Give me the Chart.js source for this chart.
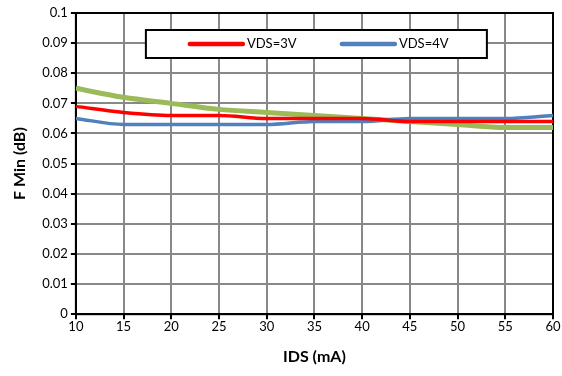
<!DOCTYPE html>
<html>
<head>
<meta charset="utf-8">
<script src="https://cdn.jsdelivr.net/npm/chart.js@4"></script>
<style>
  html, body { margin: 0; padding: 0; background: #fff; }
  #wrap { width: 562px; height: 376px; }
</style>
</head>
<body>
<div id="wrap"><canvas id="fminChart" width="562" height="376"></canvas></div>
<script>
// IDS (mA) değerleri
const ids = [10, 15, 20, 25, 30, 35, 40, 45, 50, 55, 60];
// F Min (dB) serileri
const vds3 = [0.069, 0.067, 0.066, 0.066, 0.065, 0.065, 0.065, 0.064, 0.064, 0.064, 0.064];
const vds4 = [0.065, 0.063, 0.063, 0.063, 0.063, 0.064, 0.064, 0.065, 0.065, 0.065, 0.066];
const green = [0.075, 0.072, 0.070, 0.068, 0.067, 0.066, 0.065, 0.064, 0.063, 0.062, 0.062];
const seriesNames = ['VDS=3V', 'VDS=4V', ''];

const FONT = "Lato, 'Open Sans', sans-serif";

function toPoints(arr) {
    return arr.map((v, i) => ({ x: ids[i], y: v }));
}

// Çerçeve: üst ve sağ kenar
const frame = {
    id: 'frame',
    beforeDatasetsDraw(chart) {
        const a = chart.chartArea;
        const ctx = chart.ctx;
        ctx.save();
        ctx.strokeStyle = '#000';
        ctx.lineWidth = 2;
        ctx.strokeRect(a.left, a.top, a.right - a.left, a.bottom - a.top);
        ctx.restore();
    }
};

// Grafik içi legend kutusu
const boxLegend = {
    id: 'boxLegend',
    afterDraw(chart) {
        const a = chart.chartArea;
        const ctx = chart.ctx;
        const x0 = a.left + 70, y0 = a.top + 17, w = 341, h = 28;
        ctx.save();
        ctx.fillStyle = '#fff';
        ctx.fillRect(x0, y0, w, h);
        ctx.strokeStyle = '#000';
        ctx.lineWidth = 2;
        ctx.strokeRect(x0, y0, w, h);
        ctx.font = '13px ' + FONT;
        ctx.textBaseline = 'middle';
        ctx.fillStyle = '#000';
        const cy = y0 + h / 2;
        [[0, x0 + 44], [1, x0 + 196]].forEach(([di, sx]) => {
            const ds = chart.data.datasets[di];
            ctx.strokeStyle = ds.borderColor;
            ctx.lineWidth = 4.5;
            ctx.lineCap = 'round';
            ctx.beginPath();
            ctx.moveTo(sx, cy);
            ctx.lineTo(sx + 53, cy);
            ctx.stroke();
            ctx.fillText(ds.label, sx + 57, cy);
        });
        ctx.restore();
    }
};

new Chart(document.getElementById('fminChart'), {
    type: 'line',
    data: {
        datasets: [{
            label: seriesNames[0],
            data: toPoints(vds3),
            borderColor: '#ff0000',
            borderWidth: 3.5,
            pointRadius: 0,
            cubicInterpolationMode: 'monotone'
        }, {
            label: seriesNames[1],
            data: toPoints(vds4),
            borderColor: '#4f81bd',
            borderWidth: 3.5,
            pointRadius: 0,
            cubicInterpolationMode: 'monotone'
        }, {
            label: seriesNames[2],
            data: toPoints(green),
            borderColor: '#9bbb59',
            borderWidth: 5,
            pointRadius: 0,
            cubicInterpolationMode: 'monotone'
        }]
    },
    options: {
        responsive: false,
        animation: false,
        layout: { padding: { top: 13, right: 9, left: 10, bottom: 10 } },
        plugins: {
            legend: { display: false },
            tooltip: { enabled: false }
        },
        scales: {
            x: {
                type: 'linear',
                min: 10,
                max: 60,
                ticks: {
                    stepSize: 5,
                    color: '#000',
                    font: { family: FONT, size: 13 },
                    padding: 0,
                    maxRotation: 0
                },
                grid: { color: '#888', lineWidth: 2, tickLength: 5, tickColor: '#000' },
                border: { color: '#000', width: 2 },
                title: {
                    display: true,
                    text: 'IDS (mA)',
                    color: '#000',
                    font: { family: FONT, size: 16, weight: 'bold' },
                    padding: { top: 12, bottom: 0 }
                }
            },
            y: {
                min: 0,
                max: 0.1,
                ticks: {
                    stepSize: 0.01,
                    color: '#000',
                    font: { family: FONT, size: 13 },
                    padding: 3,
                    callback: function(value) {
                        return parseFloat(value.toFixed(2)).toString();
                    }
                },
                grid: { color: '#888', lineWidth: 2, tickLength: 5, tickColor: '#000' },
                border: { color: '#000', width: 2 },
                title: {
                    display: true,
                    text: 'F Min (dB)',
                    color: '#000',
                    font: { family: FONT, size: 16, weight: 'bold' },
                    padding: { top: 0, bottom: 10 }
                }
            }
        }
    },
    plugins: [frame, boxLegend]
});
</script>
</body>
</html>
